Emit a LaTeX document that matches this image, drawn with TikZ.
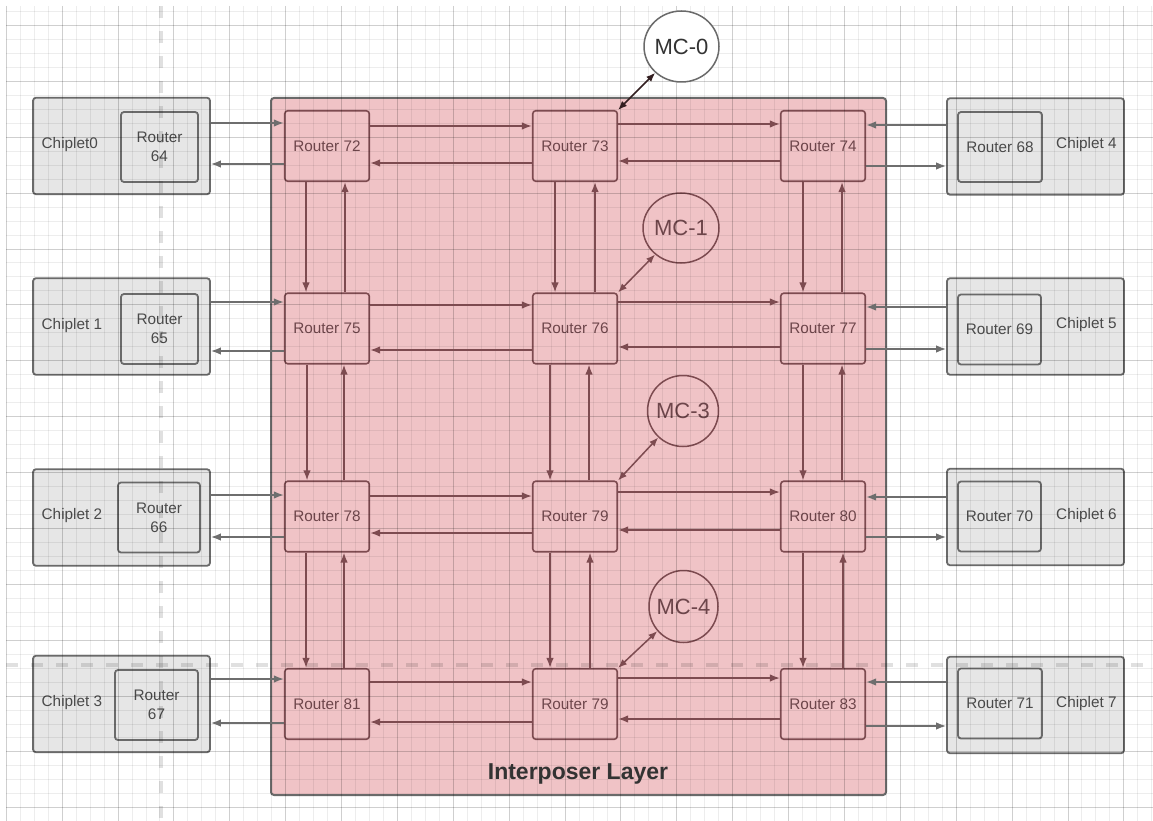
\documentclass[tikz,border=0pt]{standalone}
\usepackage{fontspec}
\setmainfont{Liberation Sans}
\usetikzlibrary{arrows.meta,shapes.geometric}
\definecolor{pinkfill}{HTML}{F0C3C6}
\definecolor{rbord}{HTML}{7D4B50}
\definecolor{rtext}{HTML}{6E464B}
\definecolor{garr}{HTML}{6E6E6E}
\definecolor{gbord}{HTML}{6A6A6A}
\definecolor{chipfill}{HTML}{E6E6E6}
\definecolor{ttext}{HTML}{4A4A4A}
\begin{document}
\begin{tikzpicture}[x=1pt,y=-1pt,
  ir/.style={draw=rbord,line width=1.6pt,rounded corners=3pt,minimum width=84.5pt,minimum height=70.5pt,inner sep=0pt,text=rtext,font=\fontsize{15.3}{19}\selectfont},
  chip/.style={draw=gbord,line width=1.8pt,rounded corners=3pt,fill=chipfill,minimum width=177pt,minimum height=96.5pt,inner sep=0pt},
  cr/.style={draw=gbord,line width=1.8pt,rounded corners=3pt,minimum height=70pt,inner sep=0pt,text=ttext,align=center,font=\fontsize{15.3}{19}\selectfont},
  lbl/.style={text=ttext,anchor=west,inner sep=0pt,font=\fontsize{15.3}{19}\selectfont},
  mc/.style={ellipse,draw=rbord,line width=1.5pt,inner sep=-6pt,text=rtext,font=\fontsize{22}{24}\selectfont},
  ai/.style={draw=rbord,line width=1.5pt,-{Latex[length=10pt,width=7.5pt]}},
  ag/.style={draw=garr,line width=1.5pt,-{Latex[length=10pt,width=7.5pt]}},
  ad/.style={draw=rbord,line width=1.5pt,{Latex[length=9pt,width=7pt]}-{Latex[length=9pt,width=7pt]}},
  gmin/.style={draw=black,draw opacity=0.07,line width=1pt},
  gmaj/.style={draw=black,draw opacity=0.19,line width=1pt},
  dashline/.style={draw=black,draw opacity=0.12,line width=4pt,dash pattern=on 12pt off 13pt}]
\useasboundingbox[fill=white] (0,0) rectangle (1153,821);
% interposer
\node[draw=gbord,line width=2pt,rounded corners=3pt,fill=pinkfill,minimum width=615pt,minimum height=697pt,inner sep=0pt] (ip) at (578.5,446.5) {};
\node[text=black!80,font=\bfseries\fontsize{23}{26}\selectfont] (iplabel) at (578,774) {Interposer Layer};
% chiplets
\node[chip] (c0) at (121.5,146) {};
\node[chip] (c1) at (121.5,326.5) {};
\node[chip] (c2) at (121.5,517.5) {};
\node[chip] (c3) at (121.5,704) {};
\node[chip] (c4) at (1035.5,146.5) {};
\node[chip] (c5) at (1035.5,326.5) {};
\node[chip] (c6) at (1035.5,517) {};
\node[chip] (c7) at (1035.5,705) {};
\node[lbl] (l0) at (41.5,145) {Chiplet0};
\node[lbl] (l1) at (41.5,326) {Chiplet 1};
\node[lbl] (l2) at (41.5,516) {Chiplet 2};
\node[lbl] (l3) at (41.5,703) {Chiplet 3};
\node[lbl] (l4) at (1056,145) {Chiplet 4};
\node[lbl] (l5) at (1056,325) {Chiplet 5};
\node[lbl] (l6) at (1056,516) {Chiplet 6};
\node[lbl] (l7) at (1056,704) {Chiplet 7};
\node[cr,minimum width=77pt] (r64) at (159.5,147) {Router\\64};
\node[cr,minimum width=77pt] (r65) at (159.5,329) {Router\\65};
\node[cr,minimum width=82pt] (r66) at (159,517.5) {Router\\66};
\node[cr,minimum width=83pt] (r67) at (156.5,705) {Router\\67};
\node[cr,minimum width=84pt] (r68) at (1000,147) {Router 68};
\node[cr,minimum width=83pt] (r69) at (999.5,329.5) {Router 69};
\node[cr,minimum width=83pt] (r70) at (999.5,516.5) {Router 70};
\node[cr,minimum width=84pt] (r71) at (1000,703.5) {Router 71};
% interposer routers
\node[ir] (r72) at (327,146) {Router 72};
\node[ir] (r73) at (575,146) {Router 73};
\node[ir] (r74) at (823,146) {Router 74};
\node[ir] (r75) at (327,328.5) {Router 75};
\node[ir] (r76) at (575,328.5) {Router 76};
\node[ir] (r77) at (823,328.5) {Router 77};
\node[ir] (r78) at (327,516.5) {Router 78};
\node[ir] (r79) at (575,516.5) {Router 79};
\node[ir] (r80) at (823,516.5) {Router 80};
\node[ir] (r81) at (327,704) {Router 81};
\node[ir] (r79b) at (575,704) {Router 79};
\node[ir] (r83) at (823,704) {Router 83};
% memory controllers inside interposer
\node[mc,minimum width=76pt,minimum height=70pt] (mc1) at (681,228) {MC-1};
\node[mc,minimum width=71pt,minimum height=71pt] (mc3) at (683,411) {MC-3};
\node[mc,minimum width=69pt,minimum height=72pt] (mc4) at (683.5,606.5) {MC-4};
% grid
\begin{scope}
\clip (6,6) rectangle (1153,821);
\foreach \i in {0,...,82} {
  \pgfmathsetmacro\gx{round(5.8+13.97*\i)+0.5}
  \pgfmathtruncatemacro\gm{mod(\i,4)}
  \ifnum\gm=0 \draw[gmaj] (\gx,6) -- (\gx,821); \else \draw[gmin] (\gx,6) -- (\gx,821); \fi
}
\foreach \k in {-1,...,57} {
  \pgfmathsetmacro\gy{round(25+13.97*\k)+0.5}
  \pgfmathtruncatemacro\gm{mod(\k+8,4)}
  \ifnum\gm=0 \draw[gmaj] (6,\gy) -- (1153,\gy); \else \draw[gmin] (6,\gy) -- (1153,\gy); \fi
}
\end{scope}
\draw[dashline] (161,6) -- (161,821);
\draw[dashline] (6,665) -- (1153,665);
% MC-0 outside
\node[ellipse,draw=gbord,fill=white,line width=1.5pt,inner sep=-6pt,text=black!80,font=\fontsize{22}{24}\selectfont,minimum width=75pt,minimum height=71pt] (mc0) at (681.5,46.5) {MC-0};
% chiplet links
\draw[ag] (c0.east |- 0,123) -- (r72.west |- 0,123);
\draw[ag] (r72.west |- 0,164) -- (c0.east |- 0,164);
\draw[ag] (c1.east |- 0,302) -- (r75.west |- 0,302);
\draw[ag] (r75.west |- 0,351) -- (c1.east |- 0,351);
\draw[ag] (c2.east |- 0,495) -- (r78.west |- 0,495);
\draw[ag] (r78.west |- 0,537) -- (c2.east |- 0,537);
\draw[ag] (c3.east |- 0,679) -- (r81.west |- 0,679);
\draw[ag] (r81.west |- 0,723) -- (c3.east |- 0,723);
\draw[ag] (c4.west |- 0,125) -- (r74.east |- 0,125);
\draw[ag] (r74.east |- 0,166) -- (c4.west |- 0,166);
\draw[ag] (c5.west |- 0,307) -- (r77.east |- 0,307);
\draw[ag] (r77.east |- 0,349) -- (c5.west |- 0,349);
\draw[ag] (c6.west |- 0,497) -- (r80.east |- 0,497);
\draw[ag] (r80.east |- 0,537) -- (c6.west |- 0,537);
\draw[ag] (c7.west |- 0,682) -- (r83.east |- 0,682);
\draw[ag] (r83.east |- 0,726) -- (c7.west |- 0,726);
% horizontal mesh links
\draw[ai] (r72.east |- 0,126) -- (r73.west |- 0,126);
\draw[ai] (r73.west |- 0,163) -- (r72.east |- 0,163);
\draw[ai] (r73.east |- 0,124) -- (r74.west |- 0,124);
\draw[ai] (r74.west |- 0,161) -- (r73.east |- 0,161);
\draw[ai] (r75.east |- 0,305) -- (r76.west |- 0,305);
\draw[ai] (r76.west |- 0,350) -- (r75.east |- 0,350);
\draw[ai] (r76.east |- 0,302) -- (r77.west |- 0,302);
\draw[ai] (r77.west |- 0,347) -- (r76.east |- 0,347);
\draw[ai] (r78.east |- 0,496) -- (r79.west |- 0,496);
\draw[ai] (r79.west |- 0,533) -- (r78.east |- 0,533);
\draw[ai] (r79.east |- 0,492) -- (r80.west |- 0,492);
\draw[ai] (r80.west |- 0,530) -- (r79.east |- 0,530);
\draw[ai] (r81.east |- 0,682) -- (r79b.west |- 0,682);
\draw[ai] (r79b.west |- 0,722) -- (r81.east |- 0,722);
\draw[ai] (r79b.east |- 0,678) -- (r83.west |- 0,678);
\draw[ai] (r83.west |- 0,719) -- (r79b.east |- 0,719);
% vertical mesh links
\draw[ai] (r72.south -| 306,0) -- (r75.north -| 306,0);
\draw[ai] (r75.north -| 345,0) -- (r72.south -| 345,0);
\draw[ai] (r75.south -| 307,0) -- (r78.north -| 307,0);
\draw[ai] (r78.north -| 344,0) -- (r75.south -| 344,0);
\draw[ai] (r78.south -| 306,0) -- (r81.north -| 306,0);
\draw[ai] (r81.north -| 344,0) -- (r78.south -| 344,0);
\draw[ai] (r73.south -| 555,0) -- (r76.north -| 555,0);
\draw[ai] (r76.north -| 595,0) -- (r73.south -| 595,0);
\draw[ai] (r76.south -| 550,0) -- (r79.north -| 550,0);
\draw[ai] (r79.north -| 589,0) -- (r76.south -| 589,0);
\draw[ai] (r79.south -| 550,0) -- (r79b.north -| 550,0);
\draw[ai] (r79b.north -| 590,0) -- (r79.south -| 590,0);
\draw[ai] (r74.south -| 803,0) -- (r77.north -| 803,0);
\draw[ai] (r77.north -| 842,0) -- (r74.south -| 842,0);
\draw[ai] (r77.south -| 803,0) -- (r80.north -| 803,0);
\draw[ai] (r80.north -| 842,0) -- (r77.south -| 842,0);
\draw[ai] (r80.south -| 803,0) -- (r83.north -| 803,0);
\draw[ai] (r83.north -| 843,0) -- (r80.south -| 843,0);
% memory controller links
\draw[ad,draw=black!60!rbord] (r73.north east) -- (mc0);
\draw[ad] (r76.north east) -- (mc1);
\draw[ad] (r79.north east) -- (mc3);
\draw[ad] (r79b.north east) -- (mc4);
\end{tikzpicture}
\end{document}
